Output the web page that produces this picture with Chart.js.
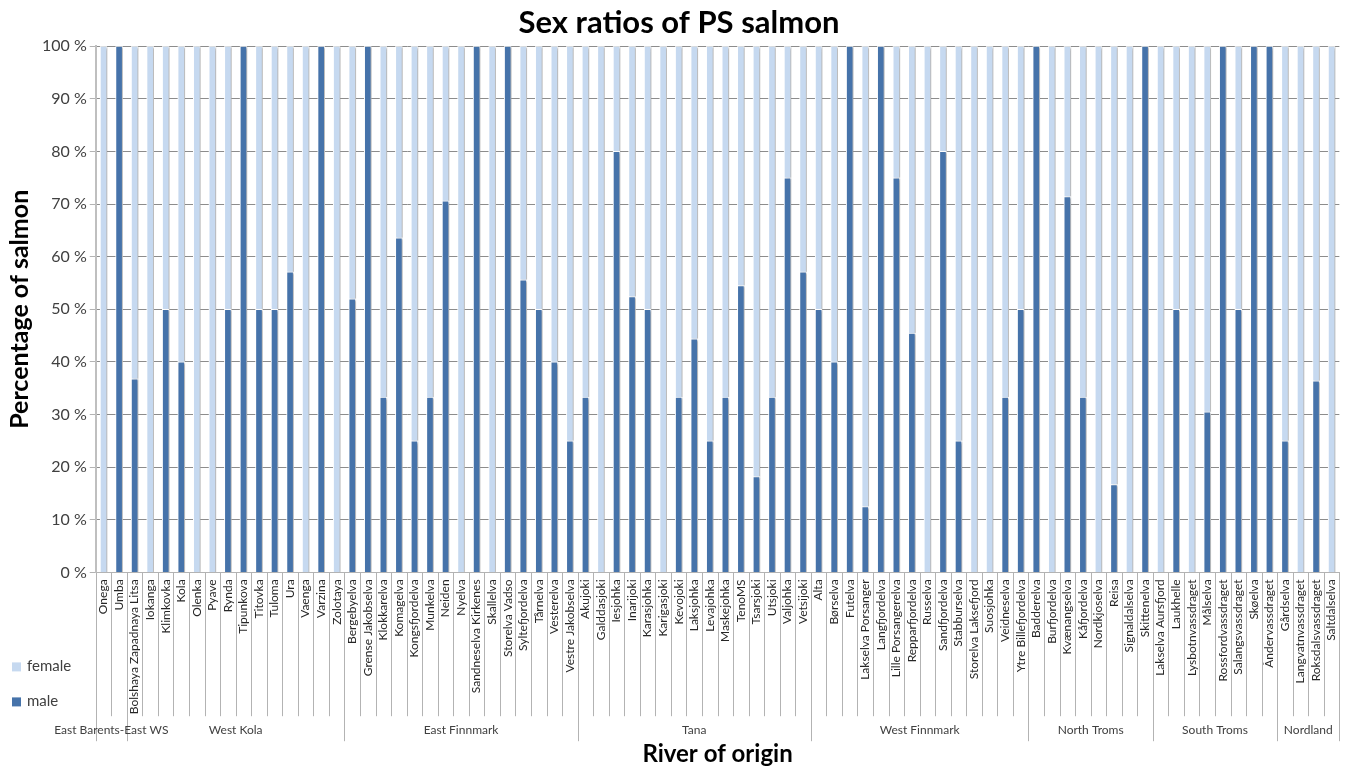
<!DOCTYPE html>
<html>
<head>
<meta charset="utf-8">
<title>Sex ratios of PS salmon</title>
<script src="https://cdn.jsdelivr.net/npm/chart.js@4"></script>
<style>
  html, body { margin: 0; padding: 0; background: #ffffff; overflow: hidden; }
  #wrap { width: 1346px; height: 771px; position: relative; overflow: hidden; }
</style>
</head>
<body>
<div id="wrap"><canvas id="sexChart" width="1353" height="771"></canvas></div>
<script>
// river names, in plot order
const rivers = [
    'Onega', 'Umba',
    'Bolshaya Zapadnaya Litsa', 'Iokanga', 'Klimkovka', 'Kola', 'Olenka', 'Pyave', 'Rynda',
    'Tipunkova', 'Titovka', 'Tuloma', 'Ura', 'Vaenga', 'Varzina', 'Zolotaya',
    'Bergebyelva', 'Grense Jakobselva', 'Klokkarelva', 'Komagelva', 'Kongsfjordelva', 'Munkelva',
    'Neiden', 'Nyelva', 'Sandneselva Kirkenes', 'Skallelva', 'Storelva Vadso', 'Syltefjordelva',
    'Tårnelva', 'Vesterelva', 'Vestre Jakobselva',
    'Akujoki', 'Galddasjoki', 'Iesjohka', 'Inarijoki', 'Karasjohka', 'Karigasjoki', 'Kevojoki',
    'Laksjohka', 'Levajohka', 'Maskejohka', 'TenoMS', 'Tsarsjoki', 'Utsjoki', 'Valjohka', 'Vetsijoki',
    'Alta', 'Børselva', 'Futelva', 'Lakselva Porsanger', 'Langfjordelva', 'Lille Porsangerelva',
    'Repparfjordelva', 'Russelva', 'Sandfjordelva', 'Stabburselva', 'Storelva Laksefjord',
    'Suosjohka', 'Veidneselva', 'Ytre Billefjordelva',
    'Badderelva', 'Burfjordelva', 'Kvænangselva', 'Kåfjordelva', 'Nordkjoselva', 'Reisa',
    'Signaldalselva', 'Skittenelva',
    'Lakselva Aursfjord', 'Laukhelle', 'Lysbotnvassdraget', 'Målselva', 'Rossfordvassdraget',
    'Salangsvassdraget', 'Skøelva', 'Åndervassdraget',
    'Gårdselva', 'Langvatnvassdraget', 'Roksdalsvassdraget', 'Saltdalselva'
];

// region groups along the x axis
const groupNames = ['East Barents-East WS', 'West Kola', 'East Finnmark', 'Tana', 'West Finnmark',
    'North Troms', 'South Troms', 'Nordland'];
const groupSizes = [2, 14, 15, 15, 14, 8, 8, 4];

// percentage of males per river
const malePct = [
    0, 100,
    36.8, 0, 50, 40, 0, 0, 50, 100, 50, 50, 57.1, 0, 100, 0,
    52, 100, 33.3, 63.6, 25, 33.3, 70.6, 0, 100, 0, 100, 55.6, 50, 40, 25,
    33.3, 0, 80, 52.4, 50, 0, 33.3, 44.4, 25, 33.3, 54.5, 18.2, 33.3, 75, 57.1,
    50, 40, 100, 12.5, 100, 75, 45.5, 0, 80, 25, 0, 0, 33.3, 50,
    100, 0, 71.4, 33.3, 0, 16.7, 0, 100,
    0, 50, 0, 30.5, 100, 50, 100, 100,
    25, 0, 36.4, 0
];

// percentage of females per river
const femalePct = [
    100, 0,
    63.2, 100, 50, 60, 100, 100, 50, 0, 50, 50, 42.9, 100, 0, 100,
    48, 0, 66.7, 36.4, 75, 66.7, 29.4, 100, 0, 100, 0, 44.4, 50, 60, 75,
    66.7, 100, 20, 47.6, 50, 100, 66.7, 55.6, 75, 66.7, 45.5, 81.8, 66.7, 25, 42.9,
    50, 60, 0, 87.5, 0, 25, 54.5, 100, 20, 75, 100, 100, 66.7, 50,
    0, 100, 28.6, 66.7, 100, 83.3, 100, 0,
    100, 50, 100, 69.5, 0, 50, 0, 0,
    75, 100, 63.6, 100
];

const maleColor = '#4673aa';
const femaleColor = '#c6d9f0';
const tickFontSize = 12;

// soft shadow on the bars, like the Excel original
const barShadow = {
    id: 'barShadow',
    beforeDatasetsDraw(chart) {
        const ctx = chart.ctx;
        ctx.save();
        ctx.shadowColor = 'rgba(0, 0, 0, 0.28)';
        ctx.shadowBlur = 2;
        ctx.shadowOffsetX = 2;
        ctx.shadowOffsetY = 1;
    },
    afterDatasetsDraw(chart) {
        chart.ctx.restore();
    }
};

// separators under the category labels, region names and the legend
const riverAxis = {
    id: 'riverAxis',
    afterDraw(chart) {
        const ctx = chart.ctx;
        const xs = chart.scales.x;
        const area = chart.chartArea;
        const step = xs.getPixelForValue(1) - xs.getPixelForValue(0);

        ctx.save();
        ctx.font = tickFontSize + 'px Lato';
        let longest = 0;
        rivers.forEach(r => { longest = Math.max(longest, ctx.measureText(r).width); });
        const labelBottom = area.bottom + 7 + longest + 2;
        const groupBottom = labelBottom + 25;

        // where each group starts
        const starts = [0];
        groupSizes.forEach((n, i) => starts.push(starts[i] + n));

        ctx.strokeStyle = '#b3b3b3';
        ctx.lineWidth = 1;
        for (let i = 0; i <= rivers.length; i++) {
            const px = Math.round(xs.getPixelForValue(i) - step / 2) + 0.5;
            const isGroupEdge = starts.includes(i);
            ctx.beginPath();
            ctx.moveTo(px, area.bottom);
            ctx.lineTo(px, isGroupEdge ? groupBottom : labelBottom);
            ctx.stroke();
        }

        // region names
        ctx.font = '12px Lato';
        ctx.fillStyle = '#404040';
        ctx.textAlign = 'center';
        ctx.textBaseline = 'middle';
        groupNames.forEach((name, i) => {
            const mid = (starts[i] + starts[i + 1] - 1) / 2;
            const w = ctx.measureText(name).width;
            let cx = xs.getPixelForValue(mid);
            cx = Math.max(cx, 10 + w / 2);
            ctx.fillText(name, cx, labelBottom + 14);
        });

        // legend, female above male
        const items = [
            { label: chart.data.datasets[1].label, color: femaleColor },
            { label: chart.data.datasets[0].label, color: maleColor }
        ];
        ctx.font = '15px Lato';
        ctx.textAlign = 'left';
        items.forEach((it, i) => {
            const cy = area.bottom + 94 + i * 35;
            ctx.fillStyle = it.color;
            ctx.fillRect(12, cy - 4, 9, 9);
            ctx.fillStyle = '#404040';
            ctx.fillText(it.label, 27, cy);
        });
        ctx.restore();
    }
};

Chart.defaults.font.family = 'Lato, "Open Sans", sans-serif';

const ctx = document.getElementById('sexChart').getContext('2d');
const sexChart = new Chart(ctx, {
    type: 'bar',
    data: {
        labels: rivers,
        datasets: [{
            label: 'male',
            data: malePct,
            backgroundColor: maleColor,
            borderColor: '#ffffff',
            borderWidth: 1,
            barThickness: 7,
            stack: 'sex'
        }, {
            label: 'female',
            data: femalePct,
            backgroundColor: femaleColor,
            borderColor: '#ffffff',
            borderWidth: 1,
            barThickness: 7,
            stack: 'sex'
        }]
    },
    options: {
        responsive: false,
        animation: false,
        layout: { padding: { left: 5, right: 0, top: 2, bottom: 2 } },
        plugins: {
            legend: { display: false },
            tooltip: { enabled: false },
            title: {
                display: true,
                text: 'Sex ratios of PS salmon',
                color: '#000000',
                font: { size: 31, weight: 'bold' },
                padding: { top: 2, bottom: 5 }
            }
        },
        scales: {
            x: {
                stacked: true,
                grid: { display: false, drawTicks: false },
                border: { display: true, color: '#b3b3b3', width: 1 },
                ticks: {
                    autoSkip: false,
                    maxRotation: 90,
                    minRotation: 90,
                    padding: 7,
                    color: '#262626',
                    font: { size: tickFontSize }
                },
                title: {
                    display: true,
                    text: 'River of origin',
                    color: '#000000',
                    font: { size: 24, weight: 'bold' },
                    padding: { top: 19, bottom: 0 }
                }
            },
            y: {
                stacked: true,
                min: 0,
                max: 100,
                grid: {
                    color: '#8c8c8c',
                    tickColor: '#b3b3b3',
                    tickLength: 6
                },
                border: { display: true, color: '#bfbfbf', width: 2 },
                ticks: {
                    stepSize: 10,
                    padding: 3,
                    color: '#404040',
                    font: { size: 16 },
                    callback: v => v + ' %'
                },
                title: {
                    display: true,
                    text: 'Percentage of salmon',
                    color: '#000000',
                    font: { size: 25, weight: 'bold' },
                    padding: { top: 0, bottom: 4 }
                }
            }
        }
    },
    plugins: [barShadow, riverAxis]
});
</script>
</body>
</html>
